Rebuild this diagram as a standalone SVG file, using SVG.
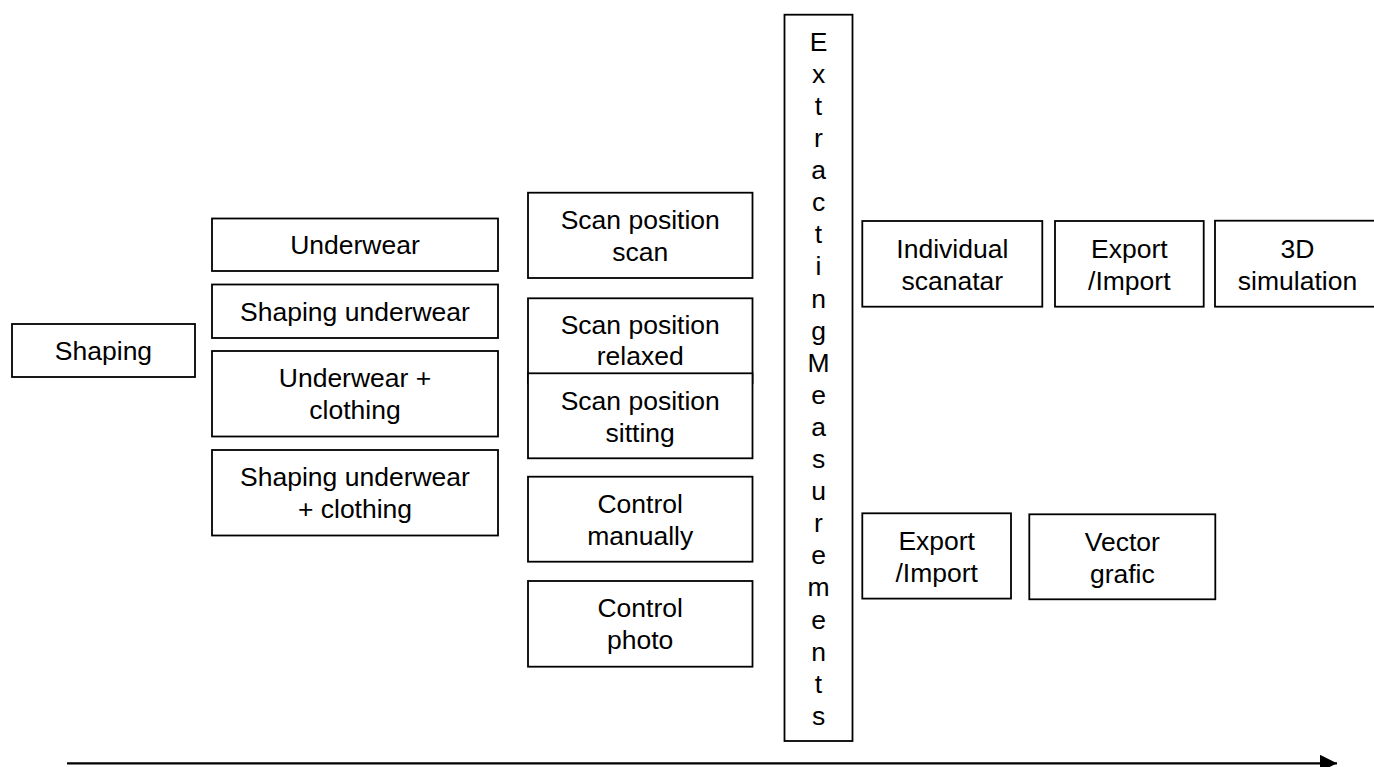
<svg xmlns="http://www.w3.org/2000/svg" width="1374" height="767" viewBox="0 0 1374 767">
<style>
.box{fill:#fff;stroke:#000;stroke-width:1.8}
.t{font-family:"Liberation Sans",Arial,sans-serif;font-size:26.5px;fill:#000;text-anchor:middle}
.conn{stroke:#000;stroke-width:2.3;fill:none}
</style>
<defs>
<marker id="ah" markerUnits="userSpaceOnUse" markerWidth="20" markerHeight="20" refX="17" refY="8.5" orient="auto">
<path d="M0,0 L17,8.5 L0,17 z" fill="#000"/>
</marker>
</defs>
<rect width="1374" height="767" fill="#fff"/>
<g id="connectors">
<line class="conn" x1="67" y1="763.3" x2="1337" y2="763.3" marker-end="url(#ah)"/>
</g>
<g id="shaping"><rect class="box" x="12" y="324" width="183" height="53"/><text class="t" x="103.5" y="360">Shaping</text></g>
<g id="underwear"><rect class="box" x="212" y="218.5" width="286" height="52.5"/><text class="t" x="355" y="254.3">Underwear</text></g>
<g id="shaping-underwear"><rect class="box" x="212" y="284.5" width="286" height="53.5"/><text class="t" x="355" y="320.7">Shaping underwear</text></g>
<g id="underwear-clothing"><rect class="box" x="212" y="351" width="286" height="85.5"/><text class="t" x="355" y="387.2">Underwear +</text><text class="t" x="355" y="419.2">clothing</text></g>
<g id="shaping-underwear-clothing"><rect class="box" x="212" y="450" width="286" height="85.5"/><text class="t" x="355" y="486.4">Shaping underwear</text><text class="t" x="355" y="518.4">+ clothing</text></g>
<g id="scan-scan"><rect class="box" x="528" y="192.7" width="224.5" height="85.3"/><text class="t" x="640.2" y="229">Scan position</text><text class="t" x="640.2" y="261">scan</text></g>
<g id="scan-relaxed"><rect class="box" x="528" y="298.3" width="224.5" height="85"/><text class="t" x="640.2" y="333.5">Scan position</text><text class="t" x="640.2" y="365">relaxed</text></g>
<g id="scan-sitting"><rect class="box" x="528" y="373.3" width="224.5" height="85"/><text class="t" x="640.2" y="409.5">Scan position</text><text class="t" x="640.2" y="441.5">sitting</text></g>
<g id="control-manually"><rect class="box" x="528" y="476.7" width="224.5" height="85"/><text class="t" x="640.2" y="512.8">Control</text><text class="t" x="640.2" y="544.8">manually</text></g>
<g id="control-photo"><rect class="box" x="528" y="581" width="224.5" height="85.7"/><text class="t" x="640.2" y="617.4">Control</text><text class="t" x="640.2" y="649.4">photo</text></g>
<g id="extracting"><rect class="box" x="784.5" y="14.7" width="68" height="726.3"/>
<text class="t" x="818.5" y="50.7">E</text>
<text class="t" x="818.5" y="82.8">x</text>
<text class="t" x="818.5" y="114.9">t</text>
<text class="t" x="818.5" y="147">r</text>
<text class="t" x="818.5" y="179.1">a</text>
<text class="t" x="818.5" y="211.2">c</text>
<text class="t" x="818.5" y="243.3">t</text>
<text class="t" x="818.5" y="275.4">i</text>
<text class="t" x="818.5" y="307.5">n</text>
<text class="t" x="818.5" y="339.6">g</text>
<text class="t" x="818.5" y="371.7">M</text>
<text class="t" x="818.5" y="403.8">e</text>
<text class="t" x="818.5" y="435.9">a</text>
<text class="t" x="818.5" y="468">s</text>
<text class="t" x="818.5" y="500.1">u</text>
<text class="t" x="818.5" y="532.2">r</text>
<text class="t" x="818.5" y="564.3">e</text>
<text class="t" x="818.5" y="596.4">m</text>
<text class="t" x="818.5" y="628.5">e</text>
<text class="t" x="818.5" y="660.6">n</text>
<text class="t" x="818.5" y="692.7">t</text>
<text class="t" x="818.5" y="724.8">s</text>
</g>
<g id="individual-scanatar"><rect class="box" x="862.3" y="221" width="180" height="85.7"/><text class="t" x="952.3" y="258">Individual</text><text class="t" x="952.3" y="290">scanatar</text></g>
<g id="export-import-1"><rect class="box" x="1055" y="221" width="148.7" height="85.7"/><text class="t" x="1129.3" y="258">Export</text><text class="t" x="1129.3" y="290">/Import</text></g>
<g id="simulation-3d"><rect class="box" x="1215" y="220.7" width="170" height="86"/><text class="t" x="1297.5" y="258">3D</text><text class="t" x="1297.5" y="290">simulation</text></g>
<g id="export-import-2"><rect class="box" x="862.3" y="513.3" width="148.7" height="85.3"/><text class="t" x="936.7" y="550">Export</text><text class="t" x="936.7" y="582">/Import</text></g>
<g id="vector-grafic"><rect class="box" x="1029.3" y="514.3" width="186" height="85"/><text class="t" x="1122.3" y="550.5">Vector</text><text class="t" x="1122.3" y="582.5">grafic</text></g>
</svg>
